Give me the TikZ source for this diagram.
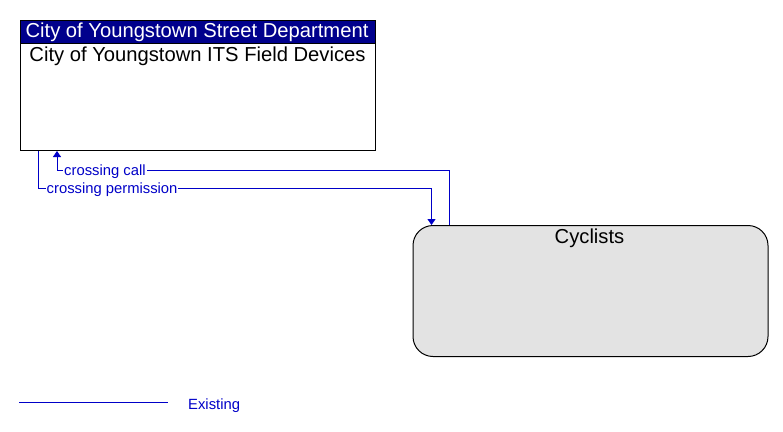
\documentclass[tikz,border=0pt]{standalone}
\usepackage{fontspec}
\setmainfont{Liberation Sans}
\usetikzlibrary{arrows.meta,calc}
\definecolor{flowblue}{RGB}{0,0,200}
\definecolor{hdrblue}{RGB}{0,0,140}
\definecolor{cycgray}{RGB}{227,227,227}
\tikzset{
  boxtext/.style={font=\fontsize{20.2}{23}\selectfont, inner sep=0pt, anchor=base},
  flowtext/.style={font=\fontsize{14.8}{17}\selectfont, text=flowblue, inner sep=0pt},
  flow/.style={draw=flowblue, line width=1pt, -{Triangle[length=6pt,width=8pt]}},
  flowlabel/.style={flowtext, fill=white, inner xsep=1pt, inner ysep=1pt, anchor=base west},
}
\begin{document}
\begin{tikzpicture}[x=1pt,y=-1pt]
\useasboundingbox (0,0) rectangle (783,431);
% top box
\node[draw, line width=1pt, minimum width=355pt, minimum height=130.5pt, anchor=north west, inner sep=0pt] (dev) at (19.5,19.5) {};
\node[fill=hdrblue, draw=black, line width=1pt, minimum width=355pt, minimum height=23pt, anchor=north west, inner sep=0pt] (hdr) at (19.5,19.5) {};
\node[boxtext, text=white] (hdrtxt) at (197,37.8) {City of Youngstown Street Department};
\node[boxtext] (devtxt) at (197.5,61.5) {City of Youngstown ITS Field Devices};
% cyclists
\node[draw, line width=1pt, fill=cycgray, rounded corners=20pt, minimum width=355pt, minimum height=131pt, anchor=north west, inner sep=0pt] (cyc) at (412.5,225) {};
\node[boxtext] (cyctxt) at (589.5,243.5) {Cyclists};
% connectors
\coordinate (callstart) at ($(cyc.north west)+(37,0)$);
\coordinate (callend) at ($(dev.south west)+(37.5,0)$);
\coordinate (permstart) at ($(dev.south west)+(19,0)$);
\coordinate (permend) at ($(cyc.north west)+(19,0)$);
\draw[flow] (callstart) |- ($(callend)+(0,19.3)$) -- (callend);
\draw[flow] (permstart) |- ($(permend)+(0,-36.7)$) -- (permend);
\node[flowlabel] (calllbl) at (63,175) {crossing call};
\node[flowlabel] (permlbl) at (45.5,193.5) {crossing permission};
% legend
\coordinate (legA) at (19,402);
\coordinate (legB) at (168,402);
\draw[draw=flowblue, line width=1pt] (legA) -- (legB);
\node[flowtext, anchor=base west] (legtxt) at (188,409) {Existing};
\end{tikzpicture}
\end{document}
